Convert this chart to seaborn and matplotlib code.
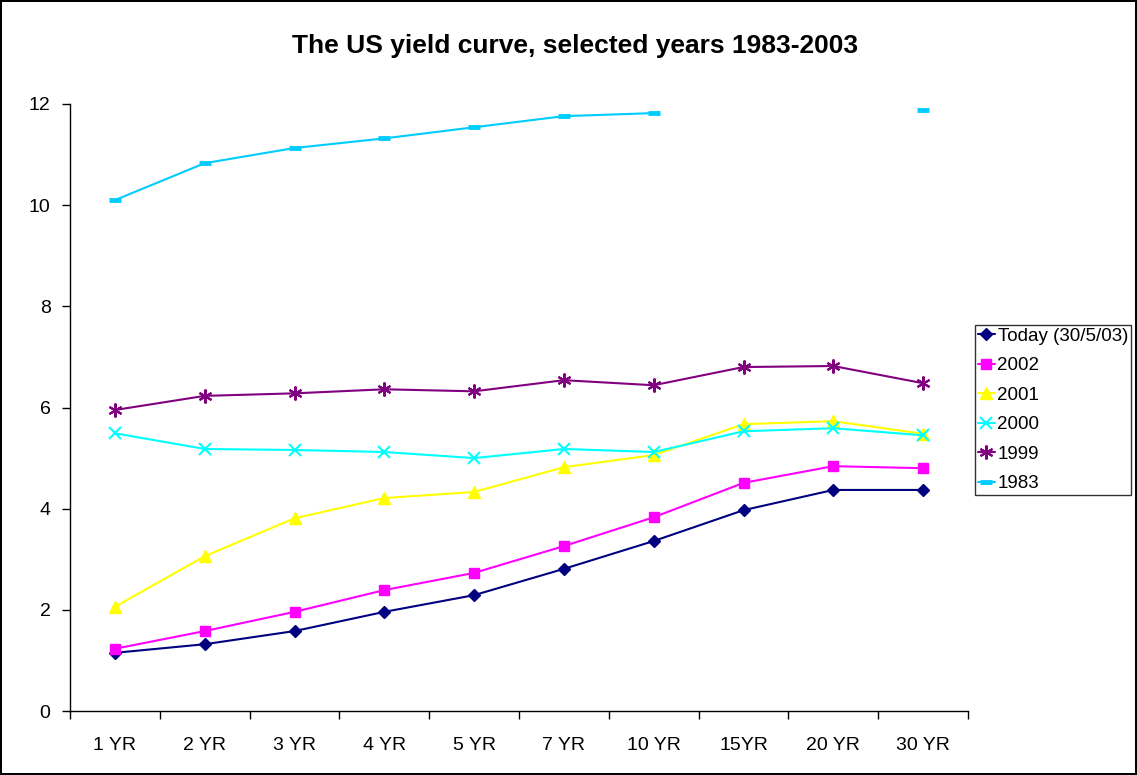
import pandas as pd
import numpy as np
import matplotlib
matplotlib.use("Agg")
import matplotlib.pyplot as plt
import seaborn as sns

# maturities on the x axis
maturities = ["1 YR", "2 YR", "3 YR", "4 YR", "5 YR", "7 YR", "10 YR", "15YR", "20 YR", "30 YR"]

# yields (%)
today = [1.15, 1.32, 1.58, 1.96, 2.29, 2.81, 3.36, 3.97, 4.37, 4.37]
y2002 = [1.23, 1.58, 1.96, 2.39, 2.73, 3.26, 3.83, 4.51, 4.84, 4.80]
y2001 = [2.06, 3.06, 3.81, 4.21, 4.33, 4.82, 5.06, 5.67, 5.73, 5.48]
y2000 = [5.49, 5.18, 5.16, 5.12, 5.00, 5.18, 5.12, 5.53, 5.59, 5.45]
y1999 = [5.95, 6.23, 6.28, 6.36, 6.32, 6.54, 6.44, 6.80, 6.82, 6.48]
y1983 = [10.10, 10.83, 11.13, 11.32, 11.54, 11.76, 11.82, np.nan, np.nan, 11.88]

series_names = ["Today (30/5/03)", "2002", "2001", "2000", "1999", "1983"]
series_values = [today, y2002, y2001, y2000, y1999, y1983]

colors = ["#000080", "#FF00FF", "#FFFF00", "#00FFFF", "#800080", "#00CCFF"]
markers = ["D", "s", "^", "x", (6, 2, 0), "_"]
msizes = [6, 7, 8, 9, 10, 8]
medges = [1, 1, 1, 1.5, 1.5, 3.5]

sns.set_theme(style="white")
plt.rcParams["font.family"] = ["Liberation Sans", "DejaVu Sans"]
plt.rcParams["text.color"] = "black"
plt.rcParams["xtick.color"] = "black"
plt.rcParams["ytick.color"] = "black"

fig = plt.figure(figsize=(11.37, 7.75), dpi=100)
fig.patch.set_edgecolor("black")
fig.patch.set_linewidth(1.5)
ax = fig.add_axes([70 / 1137, 1 - 711 / 775, 898 / 1137, 607 / 775])

for name, vals, col, mk, ms, mew in zip(series_names, series_values, colors, markers, msizes, medges):
    df = pd.DataFrame({"maturity": maturities, "yield": vals})
    # split into runs so missing points leave a gap
    ok = df["yield"].notna()
    grp = df["yield"].isna().cumsum()
    first = True
    for _, part in df[ok].groupby(grp[ok]):
        sns.lineplot(data=part, x="maturity", y="yield", ax=ax, color=col,
                     marker=mk, markersize=ms, markeredgecolor=col,
                     markeredgewidth=mew, linewidth=1.5, estimator=None, sort=False,
                     label=name if first else None)
        first = False

ax.set_xlim(-0.5, len(maturities) - 0.5)
ax.set_ylim(0, 12)
ax.set_xticks(range(len(maturities)))
ax.set_xticklabels(maturities)
ax.set_xticks(np.arange(-0.5, len(maturities), 1), minor=True)
ax.tick_params(axis="x", which="major", length=0, labelsize=14, pad=19)
ax.tick_params(axis="x", which="minor", length=6, width=1, color="black", direction="out")
ax.set_yticks(range(0, 13, 2))
ax.tick_params(axis="y", length=6, width=1, color="black", direction="out", labelsize=14, pad=8)
ax.tick_params(left=True, bottom=True, which="both")
ax.set_xlabel("")
ax.set_ylabel("")

for side in ["top", "right"]:
    ax.spines[side].set_visible(False)
for side in ["left", "bottom"]:
    ax.spines[side].set_color("black")
    ax.spines[side].set_linewidth(1)

fig.suptitle("The US yield curve, selected years 1983-2003", x=0.506, y=0.956,
             fontsize=19, fontweight="bold", color="black")

leg = ax.legend(loc="upper left", bbox_to_anchor=(975 / 1137, 1 - 325 / 775),
                bbox_transform=fig.transFigure, frameon=True, fancybox=False,
                fontsize=13.5, handlelength=0.9, handletextpad=0.15,
                borderpad=0.15, labelspacing=0.66, borderaxespad=0)
leg.get_frame().set_edgecolor("black")
leg.get_frame().set_linewidth(1)

fig.savefig("out.png", dpi=100, edgecolor=fig.get_edgecolor())
